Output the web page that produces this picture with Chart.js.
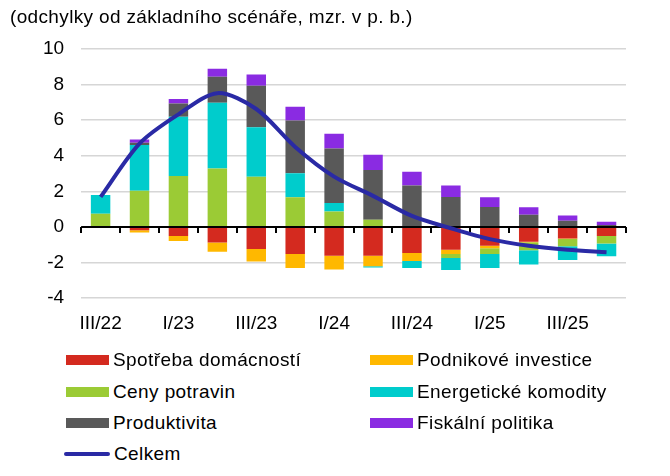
<!DOCTYPE html>
<html>
<head>
<meta charset="utf-8">
<script src="https://cdn.jsdelivr.net/npm/chart.js@4"></script>
<style>
  body { margin: 0; background: #fff; font-family: "Liberation Sans", Arial, sans-serif; }
  #wrap { position: relative; width: 670px; height: 476px; overflow: hidden; }
  #title { position: absolute; left: 10px; top: 6px; font-size: 19px; letter-spacing: 0.35px; color: #000; }
  #chartBox { position: absolute; left: 0; top: 0; width: 670px; height: 355px; }
  .leg { position: absolute; font-size: 19px; letter-spacing: 0.4px; color: #000; line-height: 20px; white-space: nowrap; }
  .leg i { display: inline-block; vertical-align: middle; margin-right: 4px; position: relative; top: -1px; }
</style>
</head>
<body>
<div id="wrap">
  <div id="chartBox"><canvas id="chart" width="670" height="355"></canvas></div>
  <div id="title">(odchylky od základního scénáře, mzr. v p. b.)</div>
  <div id="legend"></div>
</div>
<script>
// quarters
const quarters = ['III/22', 'IV/22', 'I/23', 'II/23', 'III/23', 'IV/23', 'I/24', 'II/24',
                  'III/24', 'IV/24', 'I/25', 'II/25', 'III/25', 'IV/25'];

// contributions (p.b.)
const spotreba    = [0, -0.18, -0.50, -0.87, -1.24, -1.52, -1.61, -1.61, -1.46, -1.28, -1.06, -0.83, -0.65, -0.50];
const investice   = [-0.05, -0.13, -0.28, -0.52, -0.70, -0.79, -0.78, -0.60, -0.45, -0.24, -0.14, -0.03, -0.02, 0];
const potraviny   = [0.74, 2.04, 2.87, 3.28, 2.83, 1.67, 0.87, 0.41, 0, -0.22, -0.32, -0.45, -0.41, -0.43];
const energie     = [1.06, 2.57, 3.33, 3.70, 2.78, 1.35, 0.48, -0.07, -0.40, -0.67, -0.78, -0.79, -0.77, -0.72];
const produktivita= [0, 0.13, 0.74, 1.46, 2.32, 2.96, 3.06, 2.79, 2.33, 1.69, 1.13, 0.69, 0.35, 0.11];
const fiskalni    = [0, 0.17, 0.25, 0.45, 0.64, 0.78, 0.83, 0.86, 0.78, 0.64, 0.54, 0.42, 0.30, 0.19];
const celkem      = [1.69, 4.69, 6.33, 7.52, 6.63, 4.50, 2.83, 1.75, 0.62, -0.07, -0.68, -1.05, -1.28, -1.42];

const yTicks = { min: -4, max: 10, step: 2 };

const series = [
  { label: 'Spotřeba domácností', data: spotreba, color: '#D42A1F' },
  { label: 'Podnikové investice', data: investice, color: '#FFB800' },
  { label: 'Ceny potravin', data: potraviny, color: '#9BCB35' },
  { label: 'Energetické komodity', data: energie, color: '#00CCCC' },
  { label: 'Produktivita', data: produktivita, color: '#595959' },
  { label: 'Fiskální politika', data: fiskalni, color: '#8A2BE2' }
];
const lineColor = '#2A2AA5';
const fontFamily = '"Liberation Sans", Arial, sans-serif';

// zero line with category tick marks, drawn under the total line
const zeroAxis = {
  id: 'zeroAxis',
  beforeDatasetDraw(chart, args) {
    if (args.index !== series.length) return;
    const ctx = chart.ctx, x = chart.scales.x, y = chart.scales.y;
    const y0 = Math.round(y.getPixelForValue(0));
    ctx.save();
    ctx.strokeStyle = '#000';
    ctx.lineWidth = 2;
    ctx.beginPath();
    ctx.moveTo(chart.chartArea.left, y0);
    ctx.lineTo(chart.chartArea.right, y0);
    for (let i = 0; i <= quarters.length; i++) {
      const px = Math.round(x.getPixelForValue(i - 0.5));
      ctx.moveTo(px, y0);
      ctx.lineTo(px, y0 + 6);
    }
    ctx.stroke();
    ctx.restore();
  }
};

const datasets = series.map(s => ({
  type: 'bar',
  label: s.label,
  data: s.data,
  backgroundColor: s.color,
  borderWidth: 0,
  stack: 'parts',
  order: 1,
  categoryPercentage: 1,
  barPercentage: 0.5
}));
datasets.push({
  type: 'line',
  label: 'Celkem',
  data: celkem,
  borderColor: lineColor,
  borderWidth: 4,
  pointRadius: 0,
  tension: 0.3,
  stack: 'total',
  order: 0
});

new Chart(document.getElementById('chart'), {
  data: { labels: quarters, datasets: datasets },
  options: {
    responsive: false,
    animation: false,
    events: [],
    layout: { padding: { left: 26, right: 44, top: 49, bottom: 6 } },
    plugins: { legend: { display: false }, tooltip: { enabled: false } },
    scales: {
      x: {
        stacked: true,
        grid: { display: false, drawTicks: false },
        border: { display: false },
        ticks: {
          autoSkip: false,
          maxRotation: 0,
          padding: 14,
          color: '#000',
          font: { family: fontFamily, size: 19 },
          callback: (v, i) => (i % 2 === 0 ? quarters[i] : '')
        }
      },
      y: {
        stacked: true,
        min: yTicks.min,
        max: yTicks.max,
        grid: { color: '#d6d6d6', lineWidth: 1.5, drawTicks: false },
        border: { display: false },
        ticks: {
          stepSize: yTicks.step,
          padding: 17,
          color: '#000',
          font: { family: fontFamily, size: 19 }
        }
      }
    }
  },
  plugins: [zeroAxis]
});

// legend in two columns, like the original
const legendPos = [
  [66, 360], [370, 360],
  [66, 392], [370, 392],
  [66, 423], [370, 423]
];
const legend = document.getElementById('legend');
series.forEach((s, i) => {
  const d = document.createElement('div');
  d.className = 'leg';
  d.style.left = legendPos[i][0] + 'px';
  d.style.top = (legendPos[i][1] - 10) + 'px';
  d.innerHTML = '<i style="width:43px;height:10px;background:' + s.color + '"></i>' + s.label;
  legend.appendChild(d);
});
const lc = document.createElement('div');
lc.className = 'leg';
lc.style.left = '64px';
lc.style.top = (454 - 10) + 'px';
lc.innerHTML = '<i style="width:46px;height:4px;border-radius:2px;background:' + lineColor + '"></i>Celkem';
legend.appendChild(lc);
</script>
</body>
</html>
